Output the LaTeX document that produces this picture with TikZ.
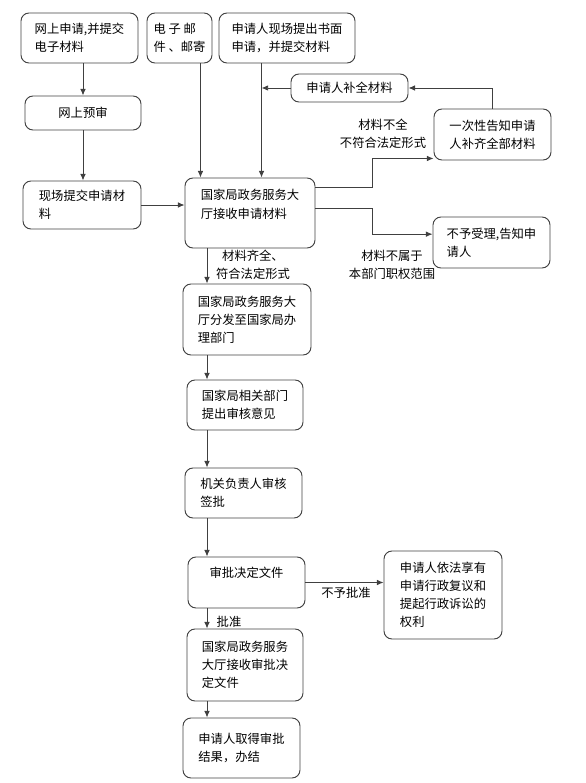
\documentclass[tikz,border=0pt]{standalone}
\usepackage{fontspec}
\newfontfamily\cjk{Noto Sans CJK SC}
\usetikzlibrary{arrows.meta}

\tikzset{
  stage/.style={draw=black!75,line width=.8pt,rounded corners=2.4mm,align=left,
    font=\cjk\fontsize{10.5pt}{15.5pt}\selectfont,inner sep=0pt},
  link/.style={-{Latex[length=2mm,width=1.7mm]},draw=black!75,line width=.8pt},
  note/.style={align=center,font=\cjk\fontsize{10.5pt}{15.5pt}\selectfont,inner sep=0pt},
}

\begin{document}
\begin{tikzpicture}[x=0.03cm,y=-0.03cm]
  \useasboundingbox (0,0) rectangle (585,783);

  % top row: three ways to apply
  \node[stage,minimum width=3.51cm,minimum height=1.5cm] (online) at (79.5,38) {网上申请,并提交\\电子材料};
  \node[stage,minimum width=1.95cm,minimum height=1.5cm] (mail) at (179.5,38) {电 子 邮\\件 、邮寄};
  \node[stage,minimum width=4.08cm,minimum height=1.5cm] (onsite) at (287,38) {申请人现场提出书面\\申请，并提交材料};

  \node[stage,minimum width=3.48cm,minimum height=1.02cm] (precheck) at (83,113) {网上预审};
  \node[stage,minimum width=3.54cm,minimum height=1.44cm] (submit) at (82,205) {现场提交申请材\\料};
  \node[stage,minimum width=3.9cm,minimum height=2.1cm,text depth=.55cm] (hall) at (250,213) {国家局政务服务大\\厅接收申请材料};

  % right side branches
  \node[stage,minimum width=3.51cm,minimum height=.84cm] (supplement) at (349.5,88) {申请人补全材料};
  \node[stage,minimum width=3.51cm,minimum height=1.53cm] (notify) at (492.5,134.5) {一次性告知申请\\人补齐全部材料};
  \node[stage,minimum width=3.51cm,minimum height=1.53cm] (reject) at (491.5,242.5) {不予受理,告知申\\请人};

  % main column
  \node[stage,minimum width=3.84cm,minimum height=2.13cm] (dispatch) at (247,319.5) {国家局政务服务大\\厅分发至国家局办\\理部门};
  \node[stage,minimum width=3.48cm,minimum height=1.5cm] (review) at (245,405) {国家局相关部门\\提出审核意见};
  \node[stage,minimum width=3.51cm,minimum height=1.5cm] (sign) at (243.5,493) {机关负责人审核\\签批};
  \node[stage,minimum width=3.51cm,minimum height=1.53cm,text depth=.63cm] (decision) at (246.5,582.5) {审批决定文件};
  \node[stage,minimum width=3.54cm,minimum height=2.64cm] (appeal) at (443,595) {申请人依法享有\\申请行政复议和\\提起行政诉讼的\\权利};
  \node[stage,minimum width=3.48cm,minimum height=2.16cm] (receive) at (245,665) {国家局政务服务\\大厅接收审批决\\定文件};
  \node[stage,minimum width=3.51cm,minimum height=1.8cm] (finish) at (241.5,748) {申请人取得审批\\结果，办结};

  \coordinate (spine) at (207,0);
  \coordinate (mailx) at ([xshift=-.36cm]mail.south east);
  \coordinate (onsitex) at ([xshift=1.29cm]onsite.south west);

  % connectors
  \draw[link] (precheck.north |- online.south) -- (precheck.north);
  \draw[link] (precheck.south) -- (precheck.south |- submit.north);
  \draw[link] (mailx) -- (mailx |- hall.north);
  \draw[link] (onsitex) -- (onsitex |- hall.north);
  \draw[link] (supplement.west) -- (supplement.west -| onsitex);
  \draw[link] (notify.north) |- (supplement.east);
  \draw[link] (submit.east) -- (submit.east -| hall.west);
  \draw[link] ([yshift=-.3cm]hall.north east) -- ++(1.71cm,0) |- ([yshift=.06cm]notify.south west);
  \draw[link] ([yshift=.15cm]hall.east) -- ++(1.71cm,0) |- ([yshift=.25cm]reject.west);
  \draw[link] (hall.south -| spine) -- (dispatch.north -| spine);
  \draw[link] (dispatch.south -| spine) -- (review.north -| spine);
  \draw[link] (review.south -| spine) -- (sign.north -| spine);
  \draw[link] (sign.south -| spine) -- (decision.north -| spine);
  \draw[link] (decision.south -| spine) -- (receive.north -| spine);
  \draw[link] (receive.south -| spine) -- (finish.north -| spine);
  \draw[link] (decision.east) -- (decision.east -| appeal.west);

  % branch labels
  \node[note] (incomplete) at (383,134) {材料不全\\不符合法定形式};
  \node[note] (outscope) at (392,265) {材料不属于\\本部门职权范围};
  \node[note] (complete) at (253,265) {材料齐全、\\符合法定形式};
  \node[note] (approve) at (229,622) {批准};
  \node[note] (deny) at (346,593) {不予批准};
\end{tikzpicture}
\end{document}
